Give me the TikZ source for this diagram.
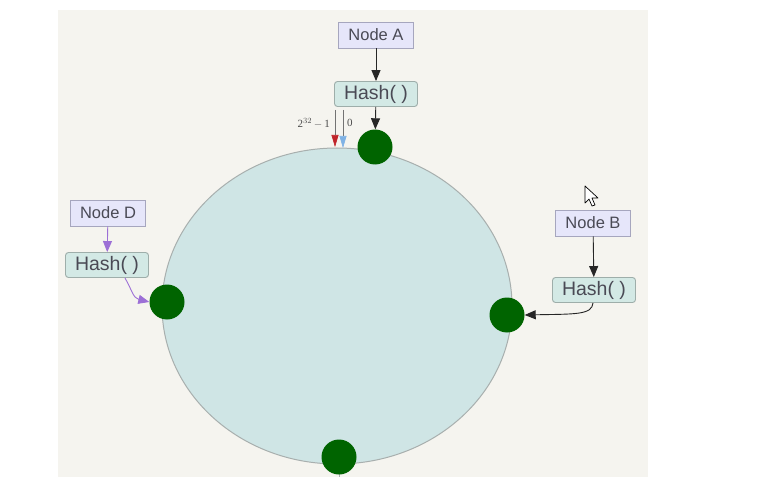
\documentclass[tikz,border=0pt]{standalone}
\usepackage{fontspec}
\setmainfont{Liberation Serif}
\setsansfont{Liberation Sans}
\usetikzlibrary{arrows.meta}
\definecolor{bgc}{HTML}{F5F4EF}
\definecolor{ringfill}{HTML}{CFE5E5}
\definecolor{ringdraw}{HTML}{A8AFAE}
\definecolor{nodefill}{HTML}{E6E6FA}
\definecolor{nodedraw}{HTML}{A6A6BE}
\definecolor{hashfill}{HTML}{D3E9E5}
\definecolor{hashdraw}{HTML}{9EAEAA}
\definecolor{dotc}{HTML}{006400}
\definecolor{txt}{HTML}{4A4A55}
\definecolor{purp}{HTML}{9C6FD6}
\definecolor{redc}{HTML}{C0242A}
\definecolor{bluec}{HTML}{7FB2E5}
\tikzset{
  namebox/.style={draw=nodedraw, fill=nodefill, line width=0.9pt, font=\sffamily\fontsize{16.5}{18}\selectfont, text=txt, minimum width=75pt, minimum height=26pt, inner sep=0pt},
  hashbox/.style={draw=hashdraw, fill=hashfill, line width=0.9pt, rounded corners=3pt, font=\sffamily\fontsize{19.5}{21}\selectfont, text=txt, minimum width=83pt, minimum height=25pt, inner sep=0pt},
  dot/.style={circle, fill=dotc, minimum size=35pt, inner sep=0pt},
  link/.style={draw=black!85, line width=0.9pt, -{Triangle[width=9pt,length=11pt]}},
  plink/.style={draw=purp, line width=0.9pt, -{Triangle[width=9pt,length=11pt]}},
  marker/.style={draw=black!55, line width=0.6pt},
}
\begin{document}
\begin{tikzpicture}[x=1pt, y=-1pt]
\useasboundingbox (0,0) rectangle (771,484);
\fill[white] (0,0) rectangle (771,484);
\fill[bgc] (58,10) rectangle (648,477);
% ring
\draw[ringdraw, fill=ringfill, line width=1pt] (337,306) ellipse [x radius=175, y radius=158];
\draw[ringdraw, line width=1pt] (339,466) -- (339,477);
% dots
\node[dot] (dA) at (375,147) {};
\node[dot] (dD) at (167,302) {};
\node[dot] (dB) at (507,315) {};
\node[dot] (dC) at (339,457) {};
% node A
\node[namebox] (nA) at (376,35) {Node A};
\node[hashbox] (hA) at (376,94) {Hash(\ )};
\draw[link] (nA) -- (hA);
\draw[link] (hA) -- (dA);
% 0 / 2^32-1 markers
\coordinate (rtop) at (335,110);
\coordinate (rbot) at (335,147);
\coordinate (btop) at (343,110);
\coordinate (bbot) at (343,148);
\draw[marker, -{Triangle[width=7pt,length=12pt,color=redc,fill=redc]}] (rtop) -- (rbot);
\draw[marker, -{Triangle[width=7pt,length=12pt,color=bluec,fill=bluec]}] (btop) -- (bbot);
\node[font=\fontsize{11}{12}\selectfont, text=black!70, anchor=east, inner sep=0pt] (lmax) at (330,123) {2$^{32}$\,$-$\,1};
\node[font=\fontsize{11}{12}\selectfont, text=black!70, anchor=west, inner sep=0pt] (lzero) at (347,123) {0};
% node D
\node[namebox] (nD) at (108,213) {Node D};
\node[hashbox] (hD) at (107,265) {Hash(\ )};
\draw[plink] (nD) -- (hD);
\coordinate (hDs) at (125,278);
\draw[plink] (hDs) .. controls (132,290) and (133,298) .. (dD.west);
% node B
\node[namebox] (nB) at (593,223) {Node B};
\node[hashbox] (hB) at (594,290) {Hash(\ )};
\draw[link] (nB) -- (hB);
\coordinate (hBs) at (593,303);
\draw[link] (hBs) .. controls (592,315) and (575,314) .. (dB.east);
% mouse pointer
\draw[black, fill=white, line width=0.7pt, line join=round]
  (585,186) -- (585,203) -- (589,199) -- (592,206) -- (595,205) -- (592,198) -- (598,198) -- cycle;
\end{tikzpicture}
\end{document}
